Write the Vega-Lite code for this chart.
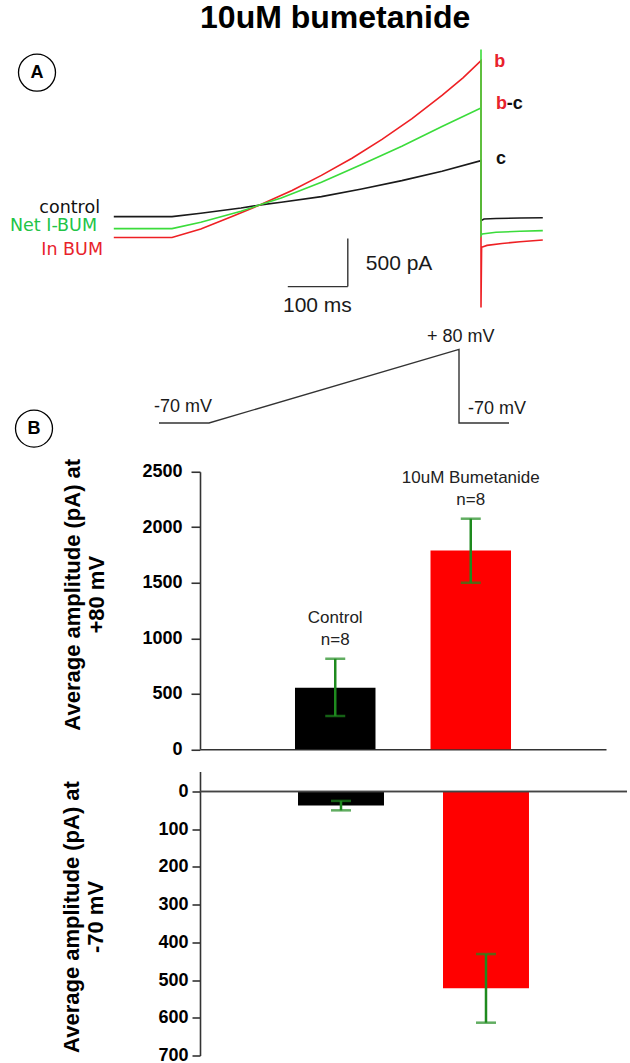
{
  "$schema": "https://vega.github.io/schema/vega-lite/v6.json",
  "padding": {"left": 9, "top": 1, "right": 0, "bottom": 0},
  "background": "white",
  "config": {"view": {"stroke": null}, "font": "Liberation Sans"},
  "bounds": "flush",
  "spacing": 21.75,
  "resolve": {"scale": {"color": "independent"}},
  "datasets": {
    "traces": [
      {"series": "control", "seq": 1, "t": -97, "pA": 0},
      {"series": "control", "seq": 2, "t": 0, "pA": 0},
      {"series": "control", "seq": 3, "t": 48, "pA": 35},
      {"series": "control", "seq": 4, "t": 115, "pA": 90},
      {"series": "control", "seq": 5, "t": 148, "pA": 122},
      {"series": "control", "seq": 6, "t": 182, "pA": 149},
      {"series": "control", "seq": 7, "t": 249, "pA": 208},
      {"series": "control", "seq": 8, "t": 316, "pA": 288},
      {"series": "control", "seq": 9, "t": 383, "pA": 375},
      {"series": "control", "seq": 10, "t": 450, "pA": 472},
      {"series": "control", "seq": 11, "t": 515, "pA": 583},
      {"series": "control", "seq": 12, "t": 515, "pA": -42},
      {"series": "control", "seq": 13, "t": 520, "pA": -25},
      {"series": "control", "seq": 14, "t": 540, "pA": -20},
      {"series": "control", "seq": 15, "t": 580, "pA": -15},
      {"series": "control", "seq": 16, "t": 618, "pA": -12},
      {"series": "In BUM", "seq": 1, "t": -97, "pA": -217},
      {"series": "In BUM", "seq": 2, "t": 0, "pA": -217},
      {"series": "In BUM", "seq": 3, "t": 48, "pA": -130},
      {"series": "In BUM", "seq": 4, "t": 100, "pA": 0},
      {"series": "In BUM", "seq": 5, "t": 148, "pA": 125},
      {"series": "In BUM", "seq": 6, "t": 200, "pA": 272},
      {"series": "In BUM", "seq": 7, "t": 249, "pA": 429},
      {"series": "In BUM", "seq": 8, "t": 300, "pA": 608},
      {"series": "In BUM", "seq": 9, "t": 350, "pA": 804},
      {"series": "In BUM", "seq": 10, "t": 400, "pA": 1020},
      {"series": "In BUM", "seq": 11, "t": 450, "pA": 1262},
      {"series": "In BUM", "seq": 12, "t": 485, "pA": 1446},
      {"series": "In BUM", "seq": 13, "t": 515, "pA": 1625},
      {"series": "In BUM", "seq": 14, "t": 515, "pA": -948},
      {"series": "In BUM", "seq": 15, "t": 516, "pA": -320},
      {"series": "In BUM", "seq": 16, "t": 525, "pA": -300},
      {"series": "In BUM", "seq": 17, "t": 550, "pA": -280},
      {"series": "In BUM", "seq": 18, "t": 580, "pA": -262},
      {"series": "In BUM", "seq": 19, "t": 618, "pA": -243},
      {"series": "Net I-BUM", "seq": 1, "t": -97, "pA": -125},
      {"series": "Net I-BUM", "seq": 2, "t": 0, "pA": -125},
      {"series": "Net I-BUM", "seq": 3, "t": 48, "pA": -59},
      {"series": "Net I-BUM", "seq": 4, "t": 115, "pA": 55},
      {"series": "Net I-BUM", "seq": 5, "t": 148, "pA": 125},
      {"series": "Net I-BUM", "seq": 6, "t": 182, "pA": 194},
      {"series": "Net I-BUM", "seq": 7, "t": 249, "pA": 357},
      {"series": "Net I-BUM", "seq": 8, "t": 316, "pA": 542},
      {"series": "Net I-BUM", "seq": 9, "t": 383, "pA": 733},
      {"series": "Net I-BUM", "seq": 10, "t": 450, "pA": 938},
      {"series": "Net I-BUM", "seq": 11, "t": 515, "pA": 1132},
      {"series": "Net I-BUM", "seq": 12, "t": 515, "pA": 1740},
      {"series": "Net I-BUM", "seq": 13, "t": 515, "pA": -198},
      {"series": "Net I-BUM", "seq": 14, "t": 517, "pA": -180},
      {"series": "Net I-BUM", "seq": 15, "t": 540, "pA": -163},
      {"series": "Net I-BUM", "seq": 16, "t": 580, "pA": -153},
      {"series": "Net I-BUM", "seq": 17, "t": 618, "pA": -146}
    ],
    "heading": [
      {"label": "10uM bumetanide", "t": 272, "pA": 2070}
    ],
    "leftLabels": [
      {"text": "control", "series": "control", "t": -120, "pA": 88},
      {"text": "Net I-BUM", "series": "Net I-BUM", "t": -125, "pA": -99},
      {"text": "In BUM", "series": "In BUM", "t": -115, "pA": -344}
    ],
    "rightLabels": [
      {"text": "b", "series": "In BUM", "t": 537, "pA": 1615},
      {"text": "b", "series": "In BUM", "t": 540, "pA": 1177},
      {"text": "-c", "series": "control", "t": 558, "pA": 1177},
      {"text": "c", "series": "control", "t": 540, "pA": 604}
    ],
    "scalebar": [
      {"t": 193, "pA": -729, "t2": 293, "pA2": -729},
      {"t": 293, "pA": -729, "t2": 293, "pA2": -229}
    ],
    "scaleText": [
      {"label": "500 pA", "t": 323, "pA": -490},
      {"label": "100 ms", "t": 185, "pA": -927}
    ],
    "panels": [
      {"letter": "A", "t": -225, "pA": 1500},
      {"letter": "B", "t": -230, "pA": -2208}
    ],
    "protocol": [
      {"seq": 1, "ms": -100, "mV": -70},
      {"seq": 2, "ms": 0, "mV": -70},
      {"seq": 3, "ms": 500, "mV": 80},
      {"seq": 4, "ms": 500, "mV": -70},
      {"seq": 5, "ms": 600, "mV": -70}
    ],
    "protocolText": [
      {"label": "-70 mV", "ms": -110, "mV": -38},
      {"label": "+ 80 mV", "ms": 436, "mV": 106},
      {"label": "-70 mV", "ms": 518, "mV": -42}
    ],
    "peak": [
      {"group": "Control", "mean": 555, "lo": 300, "hi": 815, "label": "Control\nn=8"},
      {"group": "10uM Bumetanide", "mean": 1790, "lo": 1500, "hi": 2077, "label": "10uM Bumetanide\nn=8"}
    ],
    "holding": [
      {"group": "Control", "mean": 37, "lo": 25, "hi": 50},
      {"group": "10uM Bumetanide", "mean": 522, "lo": 431, "hi": 613}
    ]
  },
  "vconcat": [
    {
      "width": 430,
      "height": 410.88,
      "resolve": {"scale": {"x": "independent", "y": "independent"}},
      "layer": [
        {
          "encoding": {
            "x": {"field": "t", "type": "quantitative", "scale": {"domain": [46.667, 763.333], "nice": false, "zero": false}, "axis": null},
            "y": {"field": "pA", "type": "quantitative", "scale": {"domain": [-2430, 1850], "nice": false, "zero": false}, "axis": null}
          },
          "layer": [
            {
              "data": {"name": "heading"},
              "mark": {"type": "text", "align": "center", "baseline": "middle", "fontSize": 32, "fontWeight": "bold", "color": "#000000"},
              "encoding": {"text": {"field": "label"}}
            },
            {
              "data": {"name": "traces"},
              "transform": [{"filter": "datum.series === 'control'"}],
              "mark": {"type": "line", "color": "#1a1a1a", "strokeWidth": 1.6, "clip": false},
              "encoding": {"order": {"field": "seq", "type": "quantitative"}}
            },
            {
              "data": {"name": "traces"},
              "transform": [{"filter": "datum.series === 'In BUM'"}],
              "mark": {"type": "line", "color": "#ee2024", "strokeWidth": 1.6, "clip": false},
              "encoding": {"order": {"field": "seq", "type": "quantitative"}}
            },
            {
              "data": {"name": "traces"},
              "transform": [{"filter": "datum.series === 'Net I-BUM'"}],
              "mark": {"type": "line", "color": "#3bdc3b", "strokeWidth": 1.6, "clip": false},
              "encoding": {"order": {"field": "seq", "type": "quantitative"}}
            },
            {
              "data": {"name": "leftLabels"},
              "mark": {"type": "text", "align": "right", "baseline": "middle", "font": "DejaVu Sans", "fontSize": 17.5},
              "encoding": {
                "text": {"field": "text"},
                "color": {"field": "series", "type": "nominal", "scale": {"domain": ["control", "Net I-BUM", "In BUM"], "range": ["#111111", "#22c447", "#e8222b"]}, "legend": null}
              }
            },
            {
              "data": {"name": "rightLabels"},
              "mark": {"type": "text", "align": "left", "baseline": "middle", "fontSize": 18, "fontWeight": "bold"},
              "encoding": {
                "text": {"field": "text"},
                "color": {"field": "series", "type": "nominal", "scale": {"domain": ["control", "Net I-BUM", "In BUM"], "range": ["#111111", "#22c447", "#e8222b"]}, "legend": null}
              }
            },
            {
              "data": {"name": "scalebar"},
              "mark": {"type": "rule", "color": "#333333", "strokeWidth": 1.4},
              "encoding": {"x2": {"field": "t2"}, "y2": {"field": "pA2"}}
            },
            {
              "data": {"name": "scaleText"},
              "mark": {"type": "text", "align": "left", "baseline": "middle", "fontSize": 21, "color": "#1a1a1a"},
              "encoding": {"text": {"field": "label"}}
            },
            {
              "data": {"name": "panels"},
              "mark": {"type": "point", "shape": "circle", "size": 1369, "filled": false, "color": "#000000", "strokeWidth": 1.3, "opacity": 1}
            },
            {
              "data": {"name": "panels"},
              "mark": {"type": "text", "align": "center", "baseline": "middle", "fontSize": 18, "fontWeight": "bold", "color": "#000000"},
              "encoding": {"text": {"field": "letter"}}
            }
          ]
        },
        {
          "encoding": {
            "x": {"field": "ms", "type": "quantitative", "scale": {"domain": [-18, 842], "nice": false, "zero": false}, "axis": null},
            "y": {"field": "mV", "type": "quantitative", "scale": {"domain": [-125, 713.5], "nice": false, "zero": false}, "axis": null}
          },
          "layer": [
            {
              "data": {"name": "protocol"},
              "mark": {"type": "line", "color": "#333333", "strokeWidth": 1.4, "clip": false},
              "encoding": {"order": {"field": "seq", "type": "quantitative"}}
            },
            {
              "data": {"name": "protocolText"},
              "mark": {"type": "text", "align": "left", "baseline": "middle", "fontSize": 18, "color": "#1a1a1a"},
              "encoding": {"text": {"field": "label"}}
            }
          ]
        }
      ]
    },
    {
      "width": 406,
      "height": 277.5,
      "data": {"name": "peak"},
      "layer": [
        {
          "mark": {"type": "bar"},
          "encoding": {
            "x": {"field": "group", "type": "nominal", "sort": ["Control", "10uM Bumetanide"], "scale": {"paddingInner": 0.406, "paddingOuter": 0.701}, "axis": {"title": null, "labels": false, "ticks": false, "domain": true, "domainColor": "#333333", "domainWidth": 1.6}},
            "y": {"field": "mean", "type": "quantitative", "title": ["Average amplitude (pA) at", "+80 mV"], "scale": {"domain": [0, 2500], "nice": false},
              "axis": {"values": [0, 500, 1000, 1500, 2000, 2500], "format": "d", "grid": false, "domainColor": "#333333", "domainWidth": 1.6, "tickColor": "#333333", "tickWidth": 1.6, "tickSize": 9, "labelPadding": 9, "labelFontSize": 18, "labelFontWeight": "bold", "labelColor": "#000000", "titleFontSize": 22, "titleFontWeight": "bold", "titleColor": "#000000", "titleAngle": -90, "titleAlign": "center", "titleBaseline": "middle", "titleLineHeight": 24, "titleX": -128, "titleY": 122.5}},
            "color": {"field": "group", "type": "nominal", "scale": {"domain": ["Control", "10uM Bumetanide"], "range": ["#000000", "#ff0000"]}, "legend": null}
          }
        },
        {
          "mark": {"type": "rule", "color": "#1e8a1e", "strokeWidth": 2.5},
          "encoding": {
            "x": {"field": "group", "type": "nominal", "sort": ["Control", "10uM Bumetanide"]},
            "y": {"field": "lo", "type": "quantitative", "title": ["Average amplitude (pA) at", "+80 mV"]},
            "y2": {"field": "hi"}
          }
        },
        {
          "mark": {"type": "tick", "color": "#1e8a1e", "thickness": 2.5, "size": 20},
          "encoding": {
            "x": {"field": "group", "type": "nominal", "sort": ["Control", "10uM Bumetanide"]},
            "y": {"field": "lo", "type": "quantitative", "title": ["Average amplitude (pA) at", "+80 mV"]}
          }
        },
        {
          "mark": {"type": "tick", "color": "#1e8a1e", "thickness": 2.5, "size": 20},
          "encoding": {
            "x": {"field": "group", "type": "nominal", "sort": ["Control", "10uM Bumetanide"]},
            "y": {"field": "hi", "type": "quantitative", "title": ["Average amplitude (pA) at", "+80 mV"]}
          }
        },
        {
          "mark": {"type": "text", "baseline": "bottom", "dy": -32, "fontSize": 17, "lineBreak": "\n", "lineHeight": 22, "color": "#222222"},
          "encoding": {
            "x": {"field": "group", "type": "nominal", "sort": ["Control", "10uM Bumetanide"]},
            "y": {"field": "hi", "type": "quantitative", "title": ["Average amplitude (pA) at", "+80 mV"]},
            "text": {"field": "label"}
          }
        }
      ]
    },
    {
      "width": 427,
      "height": 284,
      "data": {"name": "holding"},
      "layer": [
        {
          "mark": {"type": "bar"},
          "encoding": {
            "x": {"field": "group", "type": "nominal", "sort": ["Control", "10uM Bumetanide"], "scale": {"paddingInner": 0.407, "paddingOuter": 0.676}, "axis": null},
            "y": {"field": "mean", "type": "quantitative", "title": ["Average amplitude (pA) at", "-70 mV"], "scale": {"domain": [-53, 700], "nice": false, "zero": false, "reverse": true},
              "axis": {"values": [0, 100, 200, 300, 400, 500, 600, 700], "format": "d", "grid": false, "domainColor": "#333333", "domainWidth": 1.6, "tickColor": "#333333", "tickWidth": 1.6, "tickSize": 8, "labelPadding": 4, "labelFontSize": 18, "labelFontWeight": "bold", "labelColor": "#000000", "titleFontSize": 22, "titleFontWeight": "bold", "titleColor": "#000000", "titleAngle": -90, "titleAlign": "center", "titleBaseline": "middle", "titleLineHeight": 24, "titleX": -129, "titleY": 145}},
            "color": {"field": "group", "type": "nominal", "scale": {"domain": ["Control", "10uM Bumetanide"], "range": ["#000000", "#ff0000"]}, "legend": null}
          }
        },
        {
          "mark": {"type": "rule", "color": "#444444", "strokeWidth": 1.5},
          "encoding": {"y": {"datum": 0, "type": "quantitative", "title": ["Average amplitude (pA) at", "-70 mV"]}}
        },
        {
          "mark": {"type": "rule", "color": "#1e8a1e", "strokeWidth": 2.5},
          "encoding": {
            "x": {"field": "group", "type": "nominal", "sort": ["Control", "10uM Bumetanide"]},
            "y": {"field": "lo", "type": "quantitative", "title": ["Average amplitude (pA) at", "-70 mV"]},
            "y2": {"field": "hi"}
          }
        },
        {
          "mark": {"type": "tick", "color": "#1e8a1e", "thickness": 2.5, "size": 20},
          "encoding": {
            "x": {"field": "group", "type": "nominal", "sort": ["Control", "10uM Bumetanide"]},
            "y": {"field": "lo", "type": "quantitative", "title": ["Average amplitude (pA) at", "-70 mV"]}
          }
        },
        {
          "mark": {"type": "tick", "color": "#1e8a1e", "thickness": 2.5, "size": 20},
          "encoding": {
            "x": {"field": "group", "type": "nominal", "sort": ["Control", "10uM Bumetanide"]},
            "y": {"field": "hi", "type": "quantitative", "title": ["Average amplitude (pA) at", "-70 mV"]}
          }
        }
      ]
    }
  ]
}
